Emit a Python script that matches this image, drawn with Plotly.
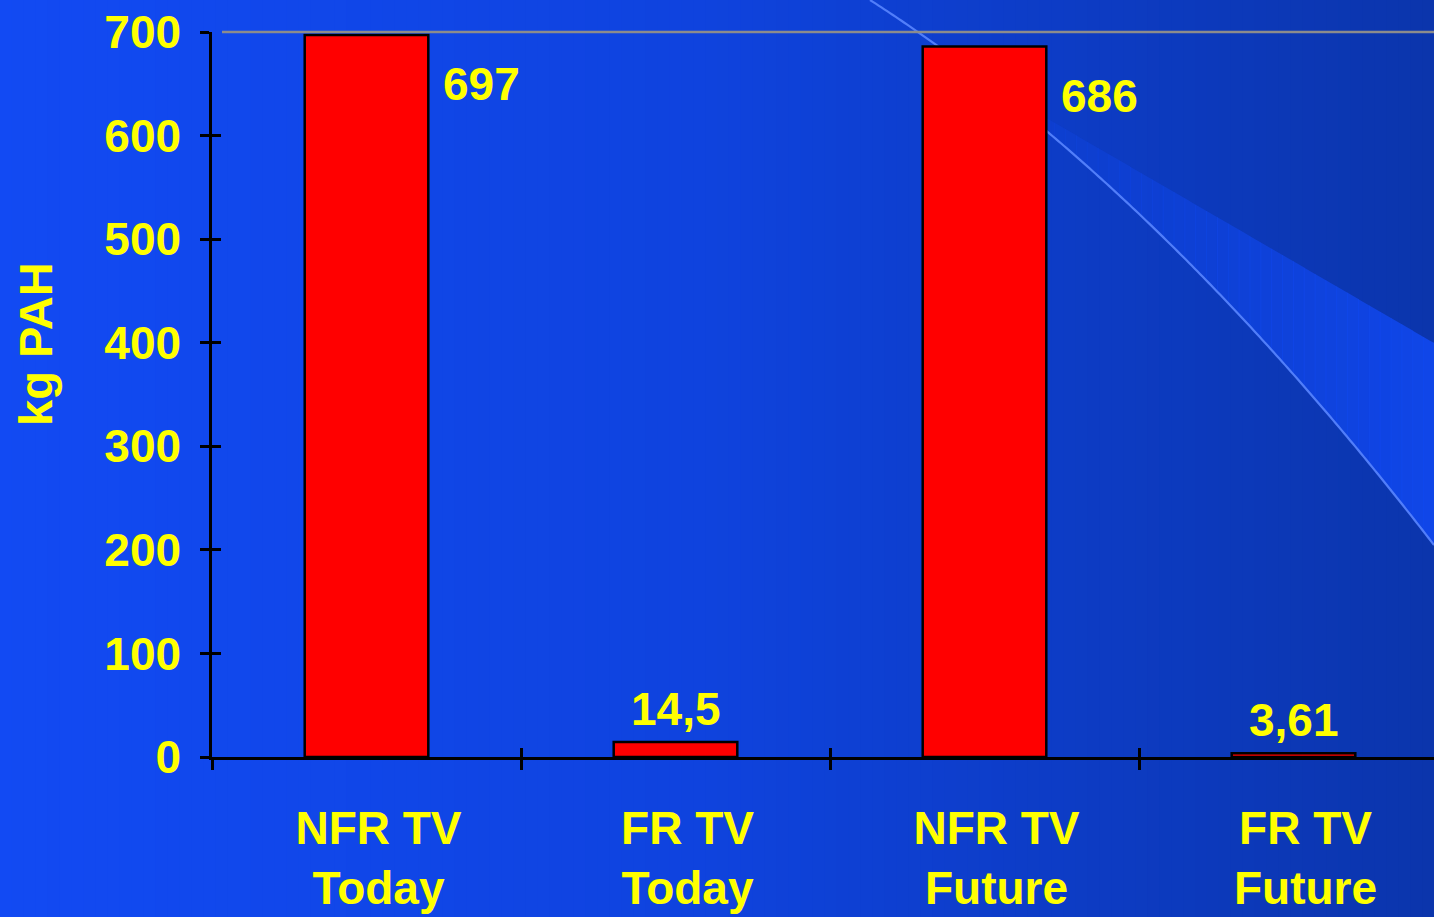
import numpy as np
import plotly.graph_objects as go

# Data
categories = ["NFR TV<br>Today", "FR TV<br>Today", "NFR TV<br>Future", "FR TV<br>Future"]
values = [697, 14.5, 686, 3.61]
value_labels = ["697", "14,5", "686", "3,61"]
# labels beside the tall bars, above the short ones
label_beside = [True, False, True, False]
y_ticks = [0, 100, 200, 300, 400, 500, 600, 700]

W, H = 1434, 917
ML, MR, MT, MB = 212, 0, 32, 160
PW, PH = W - ML - MR, H - MT - MB

FONT = "Liberation Sans, Arial, sans-serif"
YELLOW = "#ffff00"


def px_x(p):
    return (p - ML) / PW


def px_y(p):
    return (H - MB - p) / PH


fig = go.Figure()

fig.add_trace(go.Bar(
    x=categories, y=values, width=0.4,
    marker=dict(color="#ff0000", line=dict(color="#000000", width=2.5)),
    hoverinfo="skip", showlegend=False,
))
# invisible companion trace for the overlay axes (inside tick marks)
fig.add_trace(go.Scatter(
    x=categories, y=values, xaxis="x2", yaxis="y2",
    mode="markers", marker=dict(opacity=0), hoverinfo="skip", showlegend=False,
))

shapes = []

# horizontal background gradient
stops_px = [0, 700, 1434]
stops_rgb = [(18, 74, 243), (15, 67, 222), (11, 53, 172)]
n = 120
edges = np.linspace(0, W, n + 1)
for i in range(n):
    c = (edges[i] + edges[i + 1]) / 2
    rgb = [int(round(np.interp(c, stops_px, [s[k] for s in stops_rgb]))) for k in range(3)]
    shapes.append(dict(
        type="rect", xref="paper", yref="paper", layer="below",
        x0=px_x(edges[i]), x1=px_x(edges[i + 1] + 1), y0=px_y(H), y1=px_y(0),
        fillcolor=f"rgb({rgb[0]},{rgb[1]},{rgb[2]})", line=dict(width=0),
    ))

# decorative sweeping curve and a light wedge that brightens to the right
P0, P1, P2 = np.array([870, 0]), np.array([1155, 183]), np.array([1434, 545])
t = np.linspace(0, 1, 200)
curve = ((1 - t)[:, None] ** 2) * P0 + (2 * (1 - t) * t)[:, None] * P1 + (t[:, None] ** 2) * P2


def curve_y(x):
    return float(np.interp(x, curve[:, 0], curve[:, 1]))


def edge_y(x):
    # straight upper edge of the wedge
    return float(np.interp(x, [1000, 1434], [curve_y(1000) - 2, 343]))


slices = np.linspace(1000, 1434, 41)
for i in range(len(slices) - 1):
    xa, xb = slices[i], slices[i + 1] + 0.8
    xs = np.linspace(xa, xb, 4)
    pts = [(x, edge_y(x)) for x in xs] + [(x, curve_y(x)) for x in xs[::-1]]
    path = "M " + " L ".join(f"{px_x(x):.5f},{px_y(y):.5f}" for x, y in pts) + " Z"
    a = 0.15 + 0.75 * (i / (len(slices) - 2))
    shapes.append(dict(type="path", xref="paper", yref="paper", layer="below", path=path,
                       fillcolor=f"rgba(17,72,238,{a:.3f})", line=dict(width=0)))

cpath = "M " + " L ".join(f"{px_x(x):.5f},{px_y(y):.5f}" for x, y in curve)
shapes.append(dict(type="path", xref="paper", yref="paper", layer="below", path=cpath,
                   line=dict(color="rgba(85,130,252,0.95)", width=2.2)))

# top frame line
shapes.append(dict(type="line", xref="paper", yref="paper", x0=px_x(222), x1=1, y0=1, y1=1,
                   line=dict(color="#8c8c8c", width=2.5), layer="above"))

annotations = []
for cat, v, txt, beside in zip(categories, values, value_labels, label_beside):
    if beside:
        annotations.append(dict(x=cat, y=v, text=txt, showarrow=False, xanchor="left",
                                yanchor="middle", xshift=74, yshift=-49,
                                font=dict(family=FONT, size=46, color=YELLOW, weight="bold")))
    else:
        annotations.append(dict(x=cat, y=v, text=txt, showarrow=False, xanchor="center",
                                yanchor="middle", yshift=33,
                                font=dict(family=FONT, size=46, color=YELLOW, weight="bold")))

annotations.append(dict(text="kg PAH", xref="paper", yref="paper", x=px_x(36), y=px_y(344),
                        textangle=-90, showarrow=False, xanchor="center", yanchor="middle",
                        font=dict(family=FONT, size=47, color=YELLOW, weight="bold")))

axis_common = dict(showgrid=False, zeroline=False, linecolor="#000000", linewidth=2.5,
                   tickcolor="#000000", tickwidth=2.5, automargin=False)

fig.update_layout(
    width=W, height=H,
    margin=dict(l=ML, r=MR, t=MT, b=MB, pad=0, autoexpand=False),
    paper_bgcolor="#1249f2", plot_bgcolor="rgba(0,0,0,0)",
    xaxis=dict(type="category", range=[-0.5, -0.5 + PW / 309], tickson="boundaries",
               ticks="outside", ticklen=10, showline=True,
               tickfont=dict(family=FONT, size=46, color=YELLOW, weight="bold"),
               ticklabelshift=12, ticklabelstandoff=29, **axis_common),
    yaxis=dict(range=[0, 700], tickvals=y_ticks, ticks="outside", ticklen=9, showline=True,
               tickfont=dict(family=FONT, size=46, color=YELLOW, weight="bold"),
               ticklabelstandoff=10, **axis_common),
    xaxis2=dict(type="category", overlaying="x", matches="x", tickson="boundaries",
                ticks="inside", ticklen=9, showticklabels=False, showline=False,
                showgrid=False, zeroline=False, tickcolor="#000000", tickwidth=2.5),
    yaxis2=dict(overlaying="y", matches="y", tickvals=y_ticks, ticks="inside", ticklen=9,
                showticklabels=False, showline=False, showgrid=False, zeroline=False,
                tickcolor="#000000", tickwidth=2.5),
    shapes=shapes, annotations=annotations, bargap=0.6, showlegend=False,
)

fig.write_html("out.html")
